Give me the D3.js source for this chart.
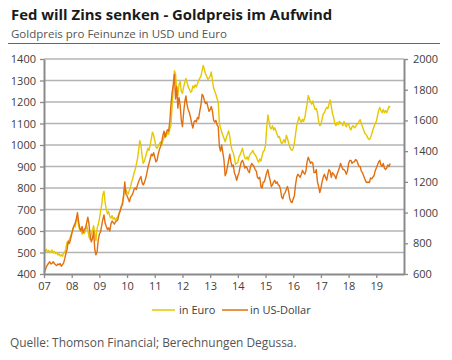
<!DOCTYPE html>
<html><head><meta charset="utf-8">
<script src="https://cdn.jsdelivr.net/npm/d3@7"></script>
<style>
html,body{margin:0;padding:0;background:#fff;}
svg{display:block;font-family:"Open Sans",sans-serif;}
</style></head><body>
<svg id="c" width="452" height="360"></svg>
<script>
// time: semi-monthly observations starting Jan 2007
const startYear = 2007;
const stepsPerYear = 24;
const yearLabels = ["07","08","09","10","11","12","13","14","15","16","17","18","19"];
const leftTicks = [400,500,600,700,800,900,1000,1100,1200,1300,1400];
const rightTicks = [600,800,1000,1200,1400,1600,1800,2000];
const seriesNames = ["in Euro","in US-Dollar"];

// Gold price in EUR (left axis)
const euro = [
497,505,515,502,510,500,506,512,498,505,495,500,488,494,484,490,482,496,500,520,548,540,562,575,
592,610,625,618,648,662,625,600,612,585,596,588,602,625,605,572,560,585,605,625,590,555,612,630,
655,690,720,770,785,730,700,680,690,668,660,672,655,662,648,660,668,680,698,712,735,765,805,790,
780,772,790,805,830,845,870,885,910,935,975,1020,1000,950,915,925,945,965,985,975,1000,1030,1060,1045,
1020,990,985,995,1005,1015,1000,1020,1035,1055,1040,1060,1050,1075,1090,1180,1260,1345,1330,1260,1230,1280,1295,1250,
1240,1270,1290,1310,1290,1270,1260,1245,1250,1275,1265,1280,1270,1285,1300,1310,1320,1345,1370,1350,1330,1320,1305,1310,
1320,1340,1300,1265,1250,1235,1215,1200,1100,1080,1060,1045,1030,1015,1035,1050,1065,1040,1000,975,965,940,910,915,
920,945,955,970,985,960,940,935,945,930,950,960,965,975,960,955,945,930,920,935,925,950,970,975,
1000,1080,1140,1110,1080,1075,1090,1070,1080,1065,1050,1035,1040,1020,1005,1015,1025,1010,1045,1030,1010,990,980,975,
985,1010,1050,1090,1110,1130,1115,1105,1120,1110,1125,1160,1190,1230,1215,1200,1190,1205,1180,1165,1170,1150,1110,1090,
1095,1120,1145,1150,1165,1175,1170,1190,1210,1180,1145,1130,1100,1090,1105,1095,1110,1105,1100,1090,1110,1095,1085,1100,
1095,1080,1070,1085,1090,1080,1085,1095,1100,1110,1118,1100,1085,1070,1055,1050,1040,1030,1025,1035,1050,1070,1085,1100,
1110,1135,1160,1175,1160,1150,1165,1150,1160,1150,1165,1180,1175
];
// Gold price in USD (right axis)
const usd = [
610,625,645,660,670,680,665,670,680,668,660,655,665,660,668,650,660,672,700,735,760,815,800,825,
860,890,915,930,960,1000,940,900,880,910,870,890,900,935,970,925,850,810,830,880,760,725,745,820,
860,875,915,955,985,930,910,890,900,880,925,945,935,925,940,945,955,990,1010,1040,1050,1110,1200,1120,
1110,1090,1070,1100,1110,1125,1150,1160,1150,1180,1200,1220,1235,1195,1180,1195,1220,1250,1290,1320,1350,1380,1370,1390,
1360,1330,1340,1380,1410,1430,1460,1500,1530,1490,1520,1540,1530,1590,1700,1780,1830,1900,1740,1820,1680,1750,1700,1600,
1560,1650,1720,1760,1700,1670,1650,1620,1580,1550,1590,1600,1590,1620,1610,1660,1700,1770,1760,1730,1710,1720,1690,1660,
1670,1690,1660,1600,1590,1600,1570,1560,1430,1400,1440,1390,1340,1240,1260,1300,1340,1380,1330,1300,1310,1260,1240,1210,
1240,1260,1300,1330,1340,1320,1290,1300,1290,1270,1260,1300,1320,1310,1300,1280,1270,1230,1220,1230,1170,1160,1200,1200,
1230,1260,1280,1240,1210,1170,1180,1200,1210,1190,1200,1180,1175,1150,1100,1090,1120,1130,1150,1170,1140,1090,1070,1065,
1090,1110,1180,1230,1250,1240,1230,1250,1275,1260,1250,1270,1330,1360,1340,1320,1330,1320,1260,1260,1280,1200,1170,1130,
1160,1200,1230,1250,1230,1210,1250,1280,1270,1230,1260,1250,1240,1220,1250,1270,1290,1320,1300,1280,1280,1270,1250,1270,
1320,1340,1340,1320,1330,1330,1345,1340,1320,1300,1300,1270,1260,1240,1220,1200,1195,1200,1195,1225,1220,1230,1240,1270,
1290,1310,1330,1340,1310,1300,1320,1290,1280,1290,1310,1300,1320
];

const colors = {euro:"#e6c700", usd:"#e2700f"};
const svg = d3.select("#c");

// header
svg.append("text").attr("x",11).attr("y",20).attr("font-size",14.9).attr("font-weight",700)
  .attr("fill","#1a1a1a").text("Fed will Zins senken - Goldpreis im Aufwind");
svg.append("text").attr("x",11).attr("y",38).attr("font-size",11.5).attr("fill","#555")
  .text("Goldpreis pro Feinunze in USD und Euro");
svg.append("line").attr("x1",8).attr("x2",440).attr("y1",43.5).attr("y2",43.5)
  .attr("stroke","#666").attr("stroke-width",1);

const L = 44, R = 404, T = 59, B = 274;
const x = d3.scaleLinear().domain([startYear, startYear+13]).range([L,R]);
const yL = d3.scaleLinear().domain([400,1400]).range([B,T]);
const yR = d3.scaleLinear().domain([600,2000]).range([B,T]);

// gridlines
svg.append("g").selectAll("line").data(leftTicks.slice(1)).join("line")
  .attr("x1",L).attr("x2",R).attr("y1",d=>yL(d)).attr("y2",d=>yL(d))
  .attr("stroke","#b4b4b4").attr("stroke-width",1.3);

const pts = arr => arr.map((v,i)=>[startYear + i/stepsPerYear, v]);
svg.append("path").datum(pts(euro))
  .attr("d", d3.line().x(d=>x(d[0])).y(d=>yL(d[1])))
  .attr("fill","none").attr("stroke",colors.euro).attr("stroke-width",1.4).attr("stroke-linejoin","round");
svg.append("path").datum(pts(usd))
  .attr("d", d3.line().x(d=>x(d[0])).y(d=>yR(d[1])))
  .attr("fill","none").attr("stroke",colors.usd).attr("stroke-width",1.4).attr("stroke-linejoin","round");

// axes
const axisColor = "#8a8a8a", textColor = "#404040";
function style(g){
  g.select(".domain").attr("stroke",axisColor).attr("stroke-width",2);
  g.selectAll(".tick line").attr("stroke",axisColor).attr("stroke-width",1.3);
  g.selectAll(".tick text").attr("fill",textColor).attr("font-size",11).attr("font-family","Open Sans, sans-serif");
}
const fmt = d3.format("d");
svg.append("g").attr("transform",`translate(${L},0)`)
  .call(d3.axisLeft(yL).tickValues(leftTicks).tickFormat(fmt).tickSize(4).tickSizeOuter(0).tickPadding(4))
  .call(style);
svg.append("g").attr("transform",`translate(${R},0)`)
  .call(d3.axisRight(yR).tickValues(rightTicks).tickFormat(fmt).tickSize(4).tickSizeOuter(0).tickPadding(5))
  .call(style);
svg.append("g").attr("transform",`translate(0,${B})`)
  .call(d3.axisBottom(x).tickValues(d3.range(startYear,startYear+13)).tickFormat((d,i)=>yearLabels[i])
    .tickSize(4).tickSizeOuter(0).tickPadding(4))
  .call(style);

// legend
const lg = svg.append("g");
[[152,175,179,"euro",0],[222,248,250,"usd",1]].forEach(([a,b,tx,k,i])=>{
  lg.append("line").attr("x1",a).attr("x2",b).attr("y1",310).attr("y2",310)
    .attr("stroke",colors[k]).attr("stroke-width",1.5);
  lg.append("text").attr("x",tx).attr("y",314).attr("font-size",11).attr("fill",textColor).text(seriesNames[i]);
});

svg.append("text").attr("x",10).attr("y",347).attr("font-size",11.9).attr("fill","#555")
  .text("Quelle: Thomson Financial; Berechnungen Degussa.");
</script></body></html>
